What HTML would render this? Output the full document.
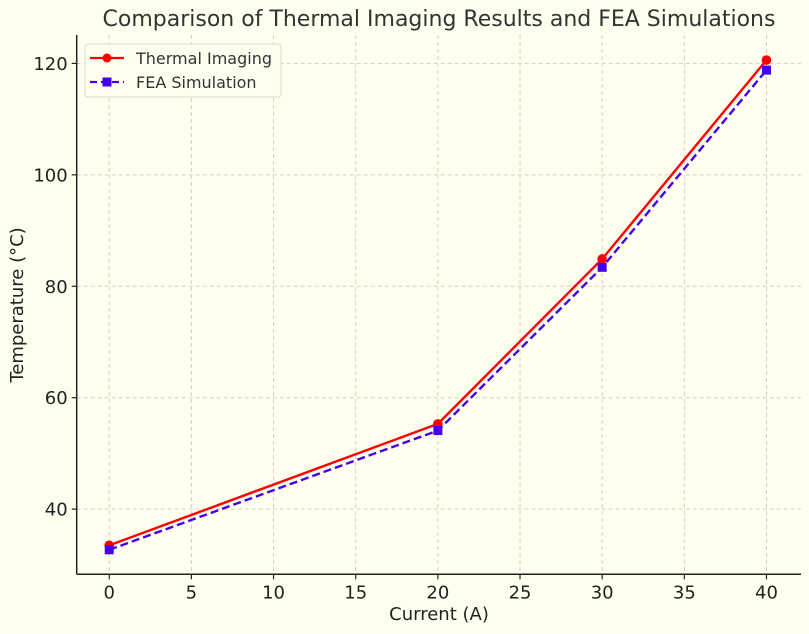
<!DOCTYPE html>
<html><head><meta charset="utf-8"><style>
html,body{margin:0;padding:0;background:#fffff0;}
svg{display:block;font-family:"DejaVu Sans","Liberation Sans",sans-serif;}
</style></head><body>
<svg id="chart" width="809" height="634" viewBox="0 0 809 634" xmlns="http://www.w3.org/2000/svg">
<rect width="809" height="634" fill="#fffff0"/>
<g id="grid"></g>
<g id="axes"></g>
<g id="series"></g>
<text x="439" y="26" text-anchor="middle" font-size="22" fill="#333">Comparison of Thermal Imaging Results and FEA Simulations</text>
<text x="439" y="620" text-anchor="middle" font-size="18" fill="#222">Current (A)</text>
<text x="23" y="305" text-anchor="middle" font-size="18" fill="#222" transform="rotate(-90 23 305)">Temperature (°C)</text>
<g>
<rect x="85" y="44" width="196" height="53" rx="3" fill="#fffff0" fill-opacity="0.85" stroke="#ddd8cc"/>
<g>
<line x1="90" y1="58" x2="124" y2="58" stroke="#ff0000" stroke-width="2.2"/>
<circle cx="107" cy="58" r="4.5" fill="#ff0000"/>
<text x="136" y="64" font-size="16" fill="#333">Thermal Imaging</text>
</g>
<g>
<line x1="90" y1="82" x2="124" y2="82" stroke="#4400ee" stroke-width="2.2" stroke-dasharray="7,4"/>
<rect x="102.5" y="77.5" width="9" height="9" fill="#4400ee"/>
<text x="136" y="88" font-size="16" fill="#333">FEA Simulation</text>
</g>
</g>
</svg>
<script>
const currents = [0, 20, 30, 40];
const thermalTemps = [33.5, 55.3, 84.9, 120.6];
const feaTemps = [32.7, 54.1, 83.4, 118.8];
const xTicks = [0, 5, 10, 15, 20, 25, 30, 35, 40];
const yTicks = [40, 60, 80, 100, 120];

const L=76.7,R=801,T=35,B=574.3;
const xMin=-1.98,xMax=42.1,yMin=28.3,yMax=125.1;
function xs(v){return L+(v-xMin)/(xMax-xMin)*(R-L);}
function ys(v){return B-(v-yMin)/(yMax-yMin)*(B-T);}
const NS="http://www.w3.org/2000/svg";
function mk(tag,attrs,parent){const e=document.createElementNS(NS,tag);for(const k in attrs)e.setAttribute(k,attrs[k]);parent.appendChild(e);return e;}
const grid=document.getElementById('grid'),axes=document.getElementById('axes'),series=document.getElementById('series');
xTicks.forEach(t=>{
  const x=xs(t);
  const g=mk('line',{x1:x,x2:x,y1:T,y2:B,stroke:'#e0c8c0','stroke-width':1,'stroke-dasharray':'4,3'},grid);
  
  
  const tk=mk('line',{x1:x,x2:x,y1:B,y2:B+5,stroke:'#222','stroke-width':1.2},axes);
  
  
  const lb=mk('text',{x:x,y:B+24,'text-anchor':'middle','font-size':18,fill:'#222'},axes);
  lb.textContent=t;
  
  
});
yTicks.forEach(t=>{
  const y=ys(t);
  const g=mk('line',{x1:L,x2:R,y1:y,y2:y,stroke:'#e0c8c0','stroke-width':1,'stroke-dasharray':'4,3'},grid);
  
  
  const tk=mk('line',{x1:L-5,x2:L,y1:y,y2:y,stroke:'#222','stroke-width':1.2},axes);
  
  
  const lb=mk('text',{x:L-9,y:y+6.5,'text-anchor':'end','font-size':18,fill:'#222'},axes);
  lb.textContent=t;
  
  
});
const ly=mk('line',{x1:L,x2:L,y1:T,y2:B,stroke:'#222','stroke-width':1.5},axes);


const lx=mk('line',{x1:L,x2:R,y1:B,y2:B,stroke:'#222','stroke-width':1.5},axes);



const pT=mk('polyline',{points:currents.map((c,i)=>xs(c)+','+ys(thermalTemps[i])).join(' '),fill:'none',stroke:'#ff0000','stroke-width':2.4},series);


const pF=mk('polyline',{points:currents.map((c,i)=>xs(c)+','+ys(feaTemps[i])).join(' '),fill:'none',stroke:'#4400ee','stroke-width':2.4,'stroke-dasharray':'8,4'},series);


currents.forEach((c,i)=>{
  const m=mk('circle',{cx:xs(c),cy:ys(thermalTemps[i]),r:4.8,fill:'#ff0000'},series);
  
  
  const s=mk('rect',{x:xs(c)-4.5,y:ys(feaTemps[i])-4.5,width:9,height:9,fill:'#4400ee'},series);
  
  
});
</script>
</body></html>
